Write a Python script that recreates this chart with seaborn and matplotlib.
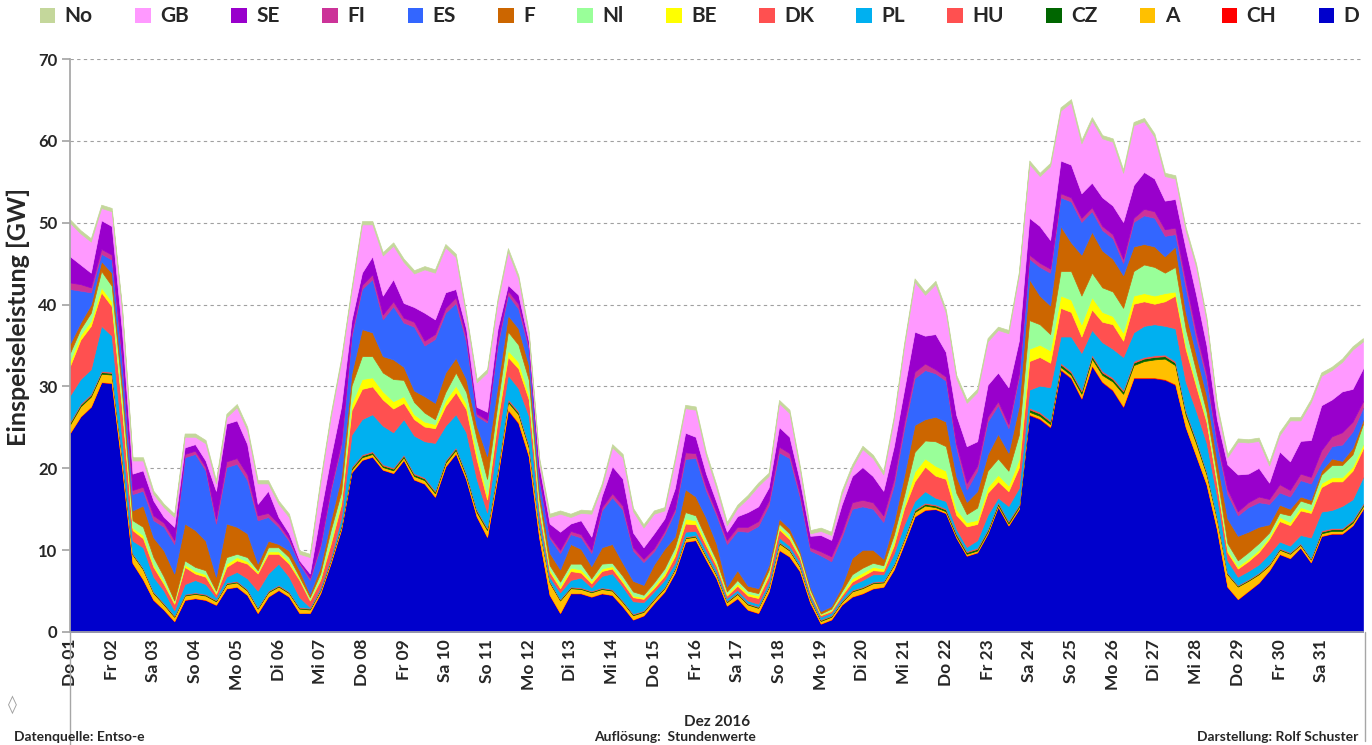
import numpy as np
import matplotlib
matplotlib.use("Agg")
import matplotlib.pyplot as plt
from matplotlib.lines import Line2D
from matplotlib.patches import Patch
import seaborn as sns


# x axis: one tick per day, Dez 2016
DAY_LABELS = ["Do 01", "Fr 02", "Sa 03", "So 04", "Mo 05", "Di 06", "Mi 07",
              "Do 08", "Fr 09", "Sa 10", "So 11", "Mo 12", "Di 13", "Mi 14",
              "Do 15", "Fr 16", "Sa 17", "So 18", "Mo 19", "Di 20", "Mi 21",
              "Do 22", "Fr 23", "Sa 24", "So 25", "Mo 26", "Di 27", "Mi 28",
              "Do 29", "Fr 30", "Sa 31"]

D = [24.3, 26.3, 27.5, 30.5,  30.4, 20.0, 8.4, 6.4,  3.9, 2.7, 1.3, 3.9,  4.1, 3.9, 3.3, 5.3,
     5.5, 4.5, 2.3, 4.3,  5.1, 4.3, 2.3, 2.3,  4.7, 8.4, 12.5, 19.5,  21.0, 21.4, 19.8, 19.4,
     21.0, 18.6, 18.1, 16.5,  20.2, 21.8, 18.6, 14.1,  11.6, 19.0, 27.1, 25.5,  21.4, 11.5, 4.5, 2.3,
     4.7, 4.7, 4.3, 4.7,  4.5, 3.1, 1.5, 2.0,  3.5, 4.9, 7.2, 11.0,  11.2, 8.8, 6.5, 3.2,
     4.1, 2.7, 2.3, 4.9,  10.0, 9.2, 7.4, 3.5,  1.0, 1.5, 3.3, 4.3,  4.7, 5.3, 5.5, 7.6,
     10.8, 14.1, 14.9, 15.0,  14.5, 11.5, 9.3, 9.7,  12.0, 15.3, 13.0, 15.0,  26.5, 26.0, 25.0, 32.0,
     31.0, 28.5, 32.5, 30.5,  29.5, 27.5, 31.0, 31.0,  31.0, 30.8, 30.2, 25.0,  21.5, 18.0, 12.5, 5.5,
     4.0, 5.0, 6.0, 7.5,  9.5, 9.0, 10.3, 8.5,  11.7, 12.0, 12.0, 13.0,  15.0]

CH = [0.05, 0.05, 0.05, 0.05,  0.05, 0.05, 0.05, 0.05,  0.05, 0.05, 0.05, 0.05,  0.05, 0.05, 0.05, 0.05,
      0.05, 0.05, 0.05, 0.05,  0.05, 0.05, 0.05, 0.05,  0.05, 0.05, 0.05, 0.05,  0.05, 0.05, 0.05, 0.05,
      0.05, 0.05, 0.05, 0.05,  0.05, 0.05, 0.05, 0.05,  0.05, 0.05, 0.1, 0.1,  0.1, 0.05, 0.05, 0.05,
      0.05, 0.05, 0.05, 0.05,  0.05, 0.05, 0.05, 0.05,  0.05, 0.05, 0.05, 0.05,  0.05, 0.05, 0.05, 0.05,
      0.05, 0.05, 0.05, 0.05,  0.05, 0.05, 0.05, 0.05,  0.05, 0.05, 0.05, 0.05,  0.05, 0.05, 0.05, 0.05,
      0.05, 0.05, 0.05, 0.05,  0.05, 0.05, 0.05, 0.05,  0.05, 0.05, 0.05, 0.05,  0.1, 0.1, 0.1, 0.1,
      0.1, 0.1, 0.1, 0.1,  0.1, 0.1, 0.1, 0.1,  0.1, 0.1, 0.1, 0.05,  0.05, 0.05, 0.05, 0.05,
      0.05, 0.05, 0.05, 0.05,  0.05, 0.05, 0.05, 0.05,  0.05, 0.05, 0.05, 0.05,  0.05]

A = [1.0, 1.2, 1.2, 1.0,  1.0, 1.0, 1.0, 1.2,  0.8, 0.6, 0.5, 0.5,  0.5, 0.5, 0.4, 0.5,
     0.5, 0.5, 0.5, 0.5,  0.4, 0.4, 0.5, 0.4,  0.3, 0.3, 0.3, 0.3,  0.3, 0.3, 0.3, 0.3,
     0.3, 0.4, 0.4, 0.4,  0.4, 0.4, 0.4, 0.5,  0.8, 0.6, 0.9, 1.0,  1.0, 1.2, 1.5, 1.5,
     0.6, 0.5, 0.5, 0.5,  0.5, 0.5, 0.5, 0.4,  0.4, 0.4, 0.4, 0.4,  0.4, 0.4, 0.4, 0.4,
     0.5, 0.6, 0.6, 0.5,  0.8, 0.7, 0.5, 0.4,  0.3, 0.3, 0.3, 0.6,  0.6, 0.6, 0.5, 0.5,
     0.5, 0.5, 0.5, 0.2,  0.2, 0.2, 0.2, 0.2,  0.2, 0.2, 0.2, 0.2,  0.3, 0.3, 0.3, 0.3,
     0.3, 0.5, 0.8, 0.8,  1.0, 1.5, 1.5, 2.0,  2.2, 2.5, 2.3, 1.5,  1.5, 1.2, 1.2, 1.5,
     1.5, 1.2, 1.0, 0.6,  0.5, 0.5, 0.3, 0.3,  0.3, 0.3, 0.3, 0.3,  0.3]

CZ = [0.2, 0.2, 0.2, 0.2,  0.2, 0.2, 0.1, 0.1,  0.1, 0.1, 0.1, 0.1,  0.1, 0.1, 0.1, 0.1,
      0.1, 0.1, 0.1, 0.1,  0.1, 0.1, 0.1, 0.1,  0.1, 0.1, 0.2, 0.2,  0.2, 0.2, 0.2, 0.2,
      0.2, 0.2, 0.2, 0.2,  0.2, 0.2, 0.2, 0.2,  0.2, 0.2, 0.2, 0.2,  0.2, 0.1, 0.1, 0.1,
      0.1, 0.1, 0.1, 0.1,  0.1, 0.1, 0.1, 0.1,  0.1, 0.1, 0.1, 0.1,  0.1, 0.1, 0.1, 0.1,
      0.1, 0.1, 0.1, 0.1,  0.1, 0.1, 0.1, 0.1,  0.1, 0.1, 0.1, 0.1,  0.1, 0.1, 0.1, 0.1,
      0.1, 0.2, 0.2, 0.2,  0.2, 0.2, 0.2, 0.2,  0.2, 0.2, 0.2, 0.2,  0.3, 0.3, 0.3, 0.3,
      0.3, 0.3, 0.3, 0.3,  0.3, 0.3, 0.3, 0.3,  0.3, 0.3, 0.3, 0.3,  0.3, 0.2, 0.2, 0.1,
      0.1, 0.1, 0.1, 0.1,  0.1, 0.1, 0.1, 0.1,  0.2, 0.2, 0.2, 0.2,  0.2]

HU = [0.15, 0.15, 0.15, 0.15,  0.15, 0.15, 0.1, 0.1,  0.1, 0.1, 0.1, 0.1,  0.1, 0.1, 0.1, 0.1,
      0.1, 0.1, 0.1, 0.1,  0.1, 0.1, 0.1, 0.1,  0.1, 0.1, 0.1, 0.15,  0.15, 0.15, 0.15, 0.15,
      0.15, 0.15, 0.15, 0.15,  0.15, 0.15, 0.15, 0.15,  0.15, 0.15, 0.2, 0.2,  0.2, 0.15, 0.1, 0.1,
      0.1, 0.1, 0.1, 0.1,  0.1, 0.1, 0.1, 0.1,  0.1, 0.1, 0.1, 0.1,  0.1, 0.1, 0.1, 0.1,
      0.1, 0.1, 0.1, 0.1,  0.1, 0.1, 0.1, 0.1,  0.1, 0.1, 0.1, 0.1,  0.1, 0.1, 0.1, 0.1,
      0.1, 0.15, 0.15, 0.15,  0.15, 0.15, 0.15, 0.15,  0.15, 0.15, 0.15, 0.15,  0.2, 0.2, 0.2, 0.2,
      0.2, 0.2, 0.2, 0.2,  0.2, 0.2, 0.2, 0.2,  0.2, 0.2, 0.2, 0.2,  0.15, 0.15, 0.1, 0.1,
      0.1, 0.1, 0.1, 0.1,  0.1, 0.1, 0.1, 0.1,  0.15, 0.15, 0.15, 0.15,  0.15]

PL = [3.2, 3.0, 3.0, 5.5,  4.4, 2.2, 1.5, 2.5,  1.8, 1.5, 0.6, 1.2,  1.5, 1.2, 0.3, 0.7,
      1.1, 1.3, 2.0, 2.1,  2.6, 1.8, 1.2, 0.1,  0.2, 0.2, 0.8, 3.9,  4.3, 4.5, 4.7, 4.3,
      4.3, 4.6, 4.4, 5.8,  4.2, 4.0, 5.0, 3.7,  1.8, 3.6, 2.9, 2.8,  3.5, 1.0, 0.5, 0.8,
      0.8, 1.2, 0.4, 1.4,  1.9, 1.7, 1.5, 1.0,  0.8, 0.8, 0.6, 0.6,  0.5, 0.5, 0.4, 0.3,
      0.3, 0.3, 0.3, 0.5,  0.5, 0.4, 0.4, 0.3,  0.3, 0.3, 0.3, 0.6,  0.8, 0.9, 0.8, 1.2,
      1.6, 1.0, 1.4, 0.8,  0.9, 0.5, 0.5, 0.9,  1.7, 0.5, 1.8, 2.0,  2.2, 3.2, 4.0, 3.2,
      4.2, 4.5, 3.0, 3.5,  3.5, 4.0, 3.5, 3.8,  3.8, 3.5, 4.0, 3.5,  3.5, 3.5, 2.5, 1.5,
      1.0, 1.0, 1.0, 1.2,  0.8, 0.8, 1.0, 2.5,  2.3, 2.2, 2.7, 2.5,  3.2]

DK = [3.6, 4.8, 5.3, 4.1,  3.6, 3.5, 1.3, 1.1,  1.2, 0.8, 0.8, 2.1,  0.8, 0.9, 0.4, 1.2,
      1.4, 1.8, 2.1, 2.4,  1.2, 1.6, 2.1, 0.8,  0.9, 1.6, 1.6, 3.0,  3.7, 3.4, 3.2, 2.9,
      2.0, 2.0, 1.8, 1.8,  2.4, 2.7, 2.8, 2.4,  1.6, 2.2, 2.2, 2.4,  2.0, 0.9, 0.6, 0.5,
      1.1, 0.6, 0.5, 0.6,  0.6, 0.5, 0.5, 0.4,  0.4, 0.5, 0.8, 1.0,  0.8, 0.6, 0.5, 0.3,
      0.5, 0.6, 0.7, 0.7,  1.0, 0.8, 0.5, 0.3,  0.2, 0.2, 0.3, 0.4,  0.5, 0.5, 0.4, 1.0,
      2.0, 2.4, 3.0, 2.7,  2.7, 1.7, 2.5, 2.0,  2.7, 2.0, 1.8, 2.5,  3.5, 3.5, 3.0, 3.5,
      3.0, 2.0, 2.5, 2.5,  3.0, 2.0, 3.5, 3.0,  2.5, 3.0, 4.0, 4.0,  3.0, 2.5, 1.5, 1.0,
      1.0, 1.2, 1.5, 1.8,  2.5, 2.5, 3.0, 3.0,  3.0, 3.5, 3.0, 3.5,  3.5]

BE = [0.6, 0.6, 0.6, 0.6,  0.6, 0.5, 0.3, 0.4,  0.3, 0.3, 0.2, 0.3,  0.3, 0.3, 0.2, 0.4,
      0.4, 0.3, 0.2, 0.3,  0.3, 0.3, 0.2, 0.1,  0.2, 0.4, 0.5, 0.8,  1.2, 1.1, 1.0, 0.9,
      0.8, 0.6, 0.6, 0.5,  0.7, 0.8, 0.7, 0.8,  0.6, 0.6, 0.8, 0.8,  0.6, 0.3, 0.3, 0.3,
      0.4, 0.4, 0.3, 0.3,  0.3, 0.3, 0.2, 0.2,  0.3, 0.4, 0.5, 0.6,  0.5, 0.4, 0.3, 0.2,
      0.3, 0.3, 0.3, 0.3,  0.3, 0.3, 0.2, 0.2,  0.1, 0.1, 0.2, 0.4,  0.4, 0.4, 0.3, 0.5,
      0.4, 1.2, 1.0, 1.2,  1.0, 0.7, 0.5, 0.5,  0.7, 0.8, 0.7, 1.0,  1.5, 1.5, 1.5, 1.5,
      1.5, 1.5, 1.5, 1.2,  1.0, 1.0, 1.0, 1.0,  1.0, 1.0, 0.5, 0.5,  0.4, 0.3, 0.3, 0.3,
      0.3, 0.3, 0.3, 0.3,  0.5, 0.4, 0.4, 0.3,  0.5, 0.5, 0.5, 0.5,  0.5]

NL = [1.0, 0.7, 1.0, 2.0,  1.9, 1.5, 0.9, 1.0,  0.9, 0.6, 0.2, 0.5,  0.5, 0.5, 0.2, 0.8,
      0.4, 0.5, 0.2, 0.5,  0.5, 0.5, 0.2, 0.3,  0.6, 1.3, 1.0, 2.2,  2.8, 2.6, 2.3, 2.7,
      2.0, 1.5, 1.1, 0.6,  1.0, 1.6, 1.4, 1.7,  1.9, 1.5, 2.3, 2.1,  1.8, 1.0, 0.5, 0.5,
      0.5, 0.7, 0.3, 0.6,  0.4, 0.5, 0.5, 0.3,  0.4, 0.5, 0.6, 0.8,  0.6, 0.5, 0.4, 0.3,
      0.4, 0.3, 0.3, 0.4,  0.4, 0.4, 0.3, 0.2,  0.1, 0.2, 0.3, 0.5,  0.6, 0.5, 0.4, 0.8,
      1.2, 2.4, 2.2, 3.0,  3.0, 2.0, 1.0, 1.5,  2.0, 2.0, 1.8, 3.0,  3.5, 2.5, 2.0, 3.0,
      3.5, 3.5, 3.0, 3.0,  3.0, 3.0, 3.0, 3.5,  3.5, 2.5, 3.0, 2.0,  1.5, 1.0, 0.8, 0.8,
      0.7, 0.8, 0.8, 0.5,  0.5, 0.8, 0.8, 0.8,  1.0, 1.5, 1.5, 1.5,  2.5]

F = [1.1, 0.8, 1.0, 1.2,  1.6, 1.5, 1.2, 2.6,  2.4, 3.2, 3.3, 4.5,  4.5, 3.6, 1.7, 4.1,
     3.3, 2.9, 0.8, 0.8,  0.4, 0.8, 0.8, 0.4,  0.8, 1.2, 1.9, 1.5,  3.3, 2.9, 2.0, 2.4,
     1.6, 1.4, 2.0, 2.0,  2.4, 1.8, 1.6, 1.6,  2.8, 2.2, 2.0, 2.0,  1.8, 1.0, 1.5, 1.5,
     2.4, 1.8, 1.5, 2.0,  2.3, 1.6, 1.3, 1.2,  2.2, 2.4, 1.3, 2.8,  2.3, 2.5, 2.0, 0.6,
     1.2, 0.6, 0.6, 0.6,  0.6, 0.6, 0.4, 0.3,  0.3, 0.3, 0.6, 2.0,  2.2, 1.6, 0.8, 1.5,
     2.4, 3.3, 2.6, 3.0,  3.0, 2.0, 1.5, 2.0,  2.0, 3.0, 2.2, 3.5,  5.0, 3.5, 3.5, 5.5,
     3.5, 5.0, 5.0, 4.5,  4.0, 4.0, 3.0, 2.5,  2.5, 2.0, 2.5, 2.0,  2.0, 2.0, 1.8, 3.0,
     3.0, 2.5, 2.0, 1.0,  1.0, 0.8, 0.5, 0.5,  0.5, 0.8, 0.5, 0.8,  0.5]

ES = [6.7, 3.9, 1.5, 0.9,  1.6, 2.5, 2.0, 1.8,  2.1, 2.9, 3.6, 8.1,  9.3, 8.6, 6.5, 6.9,
      7.7, 6.5, 5.3, 2.9,  2.1, 1.2, 0.8, 1.7,  2.4, 3.6, 3.7, 4.5,  4.9, 6.5, 4.5, 6.5,
      5.4, 7.8, 6.2, 7.8,  7.3, 6.7, 4.5, 1.2,  4.1, 4.9, 2.5, 2.4,  2.0, 1.5, 1.8, 2.0,
      1.2, 1.4, 1.6, 4.5,  5.7, 6.5, 3.7, 2.8,  1.6, 1.8, 3.0, 3.7,  4.7, 3.3, 3.5, 5.2,
      4.8, 6.6, 7.6, 7.3,  8.1, 8.6, 6.5, 4.5,  6.8, 5.5, 6.0, 6.0,  5.3, 5.0, 4.5, 4.5,
      5.7, 5.7, 6.0, 5.3,  5.0, 3.5, 1.5, 2.5,  4.0, 3.5, 3.0, 3.5,  2.5, 3.5, 4.0, 3.5,
      5.0, 4.0, 2.5, 2.5,  2.5, 1.5, 3.0, 3.5,  3.5, 2.5, 1.5, 3.0,  2.0, 2.0, 2.0, 3.0,
      2.5, 3.0, 3.0, 2.5,  1.5, 1.5, 2.0, 2.0,  1.0, 1.5, 2.0, 2.0,  1.5]

FI = [0.8, 0.8, 0.6, 0.6,  0.6, 0.6, 0.5, 0.5,  0.6, 0.5, 0.5, 0.4,  0.4, 0.4, 0.6, 0.7,
      0.7, 0.7, 0.6, 0.5,  0.4, 0.3, 0.2, 0.3,  0.4, 0.4, 0.5, 0.5,  0.5, 0.6, 0.6, 0.6,
      0.6, 0.6, 0.6, 0.6,  0.6, 0.7, 0.6, 0.3,  0.3, 0.5, 0.5, 0.6,  0.4, 0.3, 0.3, 0.4,
      0.4, 0.4, 0.4, 0.4,  0.5, 0.5, 0.4, 0.4,  0.4, 0.4, 0.4, 0.8,  0.6, 0.5, 0.4, 0.5,
      0.5, 0.6, 0.6, 0.6,  0.7, 0.6, 0.5, 0.4,  0.5, 0.6, 0.6, 0.8,  0.8, 0.8, 0.8, 0.8,
      0.8, 0.8, 0.8, 0.5,  0.5, 0.5, 0.8, 0.6,  0.6, 0.5, 0.5, 0.5,  0.5, 0.5, 0.5, 0.5,
      0.5, 0.5, 0.5, 0.5,  0.5, 0.5, 0.5, 0.8,  0.8, 0.8, 0.8, 0.8,  0.8, 0.6, 0.5, 0.6,
      0.5, 0.6, 0.7, 0.6,  1.0, 0.8, 0.8, 0.8,  1.5, 1.2, 1.5, 1.2,  0.8]

SE = [3.2, 2.4, 1.8, 3.5,  3.5, 2.9, 2.0, 2.0,  1.8, 0.7, 1.6, 0.8,  0.8, 0.8, 3.4, 4.6,
      4.6, 3.7, 1.4, 2.7,  0.8, 0.6, 0.2, 0.5,  3.7, 3.7, 4.4, 1.5,  1.5, 2.2, 2.3, 2.7,
      1.8, 1.8, 3.4, 1.8,  1.9, 1.0, 1.0, 0.8,  1.0, 1.5, 0.7, 1.1,  0.5, 1.3, 1.5, 2.2,
      0.9, 1.7, 1.6, 1.4,  3.3, 3.3, 1.8, 1.4,  1.8, 1.5, 2.5, 2.4,  2.0, 1.6, 1.2, 1.0,
      1.3, 1.8, 1.8, 1.6,  2.4, 2.0, 1.5, 1.4,  2.0, 2.0, 3.4, 3.2,  4.0, 3.2, 3.0, 4.0,
      4.0, 4.9, 3.4, 4.3,  3.0, 3.5, 4.5, 3.0,  3.9, 3.5, 4.5, 4.0,  4.5, 4.5, 3.5, 4.0,
      4.0, 3.0, 3.0, 3.5,  3.5, 4.5, 4.0, 4.5,  4.0, 3.5, 3.5, 4.0,  4.5, 3.5, 2.5, 3.0,
      4.5, 3.5, 3.5, 2.0,  4.0, 3.5, 4.0, 4.5,  5.5, 4.5, 5.0, 4.0,  4.0]

GB = [4.1, 3.8, 3.8, 1.5,  1.8, 2.6, 1.6, 1.2,  0.8, 1.2, 1.2, 1.3,  0.9, 2.1, 0.9, 0.8,
      1.6, 1.7, 2.5, 0.9,  1.6, 2.0, 0.8, 2.0,  3.7, 4.9, 5.5, 3.6,  5.9, 3.9, 4.9, 4.1,
      5.0, 4.1, 5.3, 5.7,  5.5, 3.9, 1.6, 3.0,  4.8, 3.3, 4.1, 2.0,  0.8, 0.6, 0.8, 2.2,
      0.8, 0.9, 2.8, 1.1,  2.3, 2.6, 2.6, 2.4,  2.4, 1.0, 3.3, 3.0,  3.3, 2.2, 1.7, 0.8,
      1.0, 1.7, 2.5, 1.4,  2.9, 2.9, 1.4, 0.3,  0.5, 0.6, 1.3, 1.0,  2.2, 2.2, 2.0, 3.3,
      5.3, 6.1, 5.0, 6.1,  4.8, 4.5, 5.3, 6.0,  5.3, 5.2, 6.6, 8.0,  6.6, 6.1, 9.0, 6.1,
      7.6, 6.1, 7.6, 7.2,  7.8, 6.0, 7.3, 6.2,  5.1, 3.0, 2.5, 2.2,  3.4, 3.0, 1.5, 0.9,
      4.0, 3.8, 3.3, 2.1,  2.0, 5.0, 2.5, 4.6,  3.6, 3.6, 3.6, 4.8,  3.3]

NO = [0.4, 0.4, 0.4, 0.4,  0.4, 0.4, 0.4, 0.4,  0.4, 0.4, 0.4, 0.4,  0.4, 0.4, 0.4, 0.4,
      0.4, 0.4, 0.4, 0.4,  0.4, 0.4, 0.4, 0.4,  0.4, 0.4, 0.4, 0.4,  0.4, 0.4, 0.4, 0.4,
      0.4, 0.4, 0.4, 0.4,  0.4, 0.4, 0.4, 0.4,  0.4, 0.4, 0.4, 0.4,  0.4, 0.4, 0.4, 0.4,
      0.4, 0.4, 0.4, 0.4,  0.4, 0.4, 0.4, 0.4,  0.4, 0.4, 0.4, 0.4,  0.4, 0.4, 0.4, 0.4,
      0.4, 0.4, 0.4, 0.4,  0.4, 0.4, 0.4, 0.4,  0.4, 0.4, 0.4, 0.4,  0.4, 0.4, 0.4, 0.4,
      0.4, 0.4, 0.4, 0.4,  0.4, 0.4, 0.4, 0.4,  0.4, 0.4, 0.4, 0.4,  0.4, 0.4, 0.4, 0.4,
      0.4, 0.4, 0.4, 0.4,  0.4, 0.4, 0.4, 0.4,  0.4, 0.4, 0.4, 0.4,  0.4, 0.4, 0.4, 0.4,
      0.4, 0.4, 0.4, 0.4,  0.4, 0.4, 0.4, 0.4,  0.4, 0.4, 0.4, 0.4,  0.4]

# stacking order bottom -> top, legend shows it top -> bottom
STACK = [("D", D, "#0000CC"), ("CH", CH, "#FF0000"), ("A", A, "#FFC000"),
         ("CZ", CZ, "#006600"), ("HU", HU, "#FF5050"), ("PL", PL, "#00B0F0"),
         ("DK", DK, "#FF5050"), ("BE", BE, "#FFFF00"), ("Nl", NL, "#99FF99"),
         ("F", F, "#CC6600"), ("ES", ES, "#3366FF"), ("FI", FI, "#CC3399"),
         ("SE", SE, "#9900CC"), ("GB", GB, "#FF99FF"), ("No", NO, "#C4D79B")]


def main():
    sns.set_theme(style="white")
    plt.rcParams["font.family"] = ["Lato", "DejaVu Sans"]

    fig = plt.figure(figsize=(13.72, 7.45), dpi=100)
    ax = fig.add_axes([0.051, 0.1517, 0.9424, 0.7691])

    hours = np.arange(len(D)) * 6
    x = hours / 24.0

    names = [s[0] for s in STACK]
    colors = [s[2] for s in STACK]
    polys = ax.stackplot(x, *[s[1] for s in STACK], colors=colors, zorder=2)
    for p, c in zip(polys, colors):
        p.set_edgecolor(c)
        p.set_linewidth(0.5)

    ax.set_xlim(0, 31)
    ax.set_ylim(0, 70)
    ax.set_yticks(range(0, 71, 10))
    ax.set_xticks(range(31))
    ax.set_xticklabels(DAY_LABELS, rotation=90, fontsize=12.5, fontweight="bold")
    for lab in ax.get_yticklabels():
        lab.set_fontweight("bold")
        lab.set_fontsize(12)

    ax.grid(axis="y", color="#A0A0A0", linestyle=(0, (3, 3)), linewidth=0.8, zorder=0)
    ax.set_axisbelow(True)
    sns.despine(ax=ax, top=True, right=True)
    ax.spines["left"].set_color("#A6A6A6")
    ax.spines["bottom"].set_color("#A6A6A6")
    ax.tick_params(axis="y", direction="out", length=6, color="#A6A6A6", left=True, pad=3)
    ax.tick_params(axis="x", length=0, pad=5)

    ax.set_ylabel("Einspeiseleistung [GW]", fontsize=18, fontweight="bold")
    ax.yaxis.set_label_coords(-0.031, 0.55)

    # legend, top row
    order = names[::-1]
    handles = [Patch(facecolor=dict(zip(names, colors))[n], edgecolor="none") for n in order]
    fig.legend(handles, order, loc="upper left", bbox_to_anchor=(0.026, 0.997, 0.968, 0.0),
               ncol=15, mode="expand", frameon=False, handlelength=0.75, handleheight=0.75,
               handletextpad=0.45, borderaxespad=0, borderpad=0.2,
               prop={"weight": "bold", "size": 15})

    # plot area frame below the axis
    fig.add_artist(Line2D([0.051, 0.051], [0.0, 0.1517], color="#A6A6A6", lw=1))
    fig.add_artist(Line2D([0.9949, 0.9949], [0.005, 0.1517], color="#A6A6A6", lw=1))

    fig.text(0.0058, 0.0537, "\u25CA", color="#A0A0A0", fontsize=13, ha="left", va="center",
             family=["DejaVu Sans"])
    fig.text(0.0102, 0.011, "Datenquelle: Entso-e", fontsize=10, fontweight="bold",
             ha="left", va="center")
    fig.text(0.492, 0.011, "Auflösung:  Stundenwerte", fontsize=10, fontweight="bold",
             ha="center", va="center")
    fig.text(0.5226, 0.0309, "Dez 2016", fontsize=11, fontweight="bold",
             ha="center", va="center")
    fig.text(0.9898, 0.011, "Darstellung: Rolf Schuster", fontsize=10, fontweight="bold",
             ha="right", va="center")

    fig.savefig("out.png", dpi=100)
    plt.close(fig)


if __name__ == "__main__":
    main()
